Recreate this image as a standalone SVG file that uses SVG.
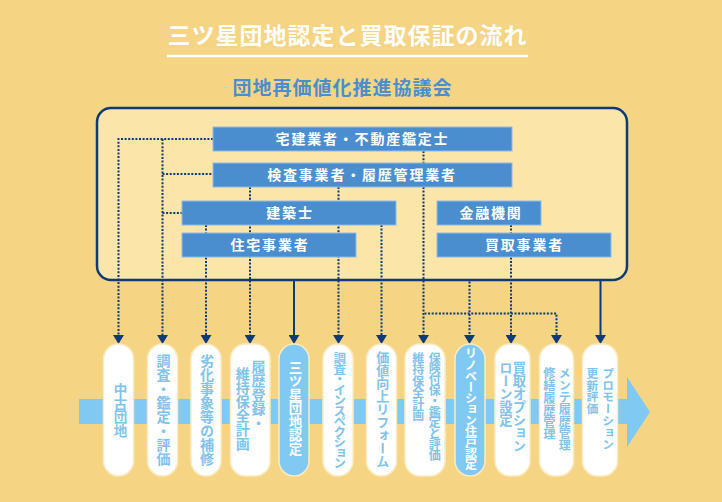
<svg xmlns="http://www.w3.org/2000/svg" width="722" height="502" viewBox="0 0 722 502">
<defs>
<style>
.jp{font-family:"Liberation Sans","Noto Sans CJK JP",sans-serif}
.title{font-size:23px;font-weight:700;fill:#ffffff;letter-spacing:1px}
.sub{font-size:19px;font-weight:700;fill:#4A8ECF;letter-spacing:1px}
.box{fill:#4A8ECF;stroke:#8DBBE6;stroke-width:1}
.bt{font-size:14px;font-weight:700;fill:#ffffff;letter-spacing:1.8px;text-anchor:middle}
.dot{fill:none;stroke:#0E3A7A;stroke-width:2;stroke-dasharray:2 1.6}
.sol{fill:none;stroke:#0E3A7A;stroke-width:2}
.pw{fill:#ffffff;stroke:#FCEBC0;stroke-width:1.5}
.pb{fill:#80C9F2;stroke:#FCEBC0;stroke-width:1.5}
.pt{writing-mode:vertical-rl;font-weight:700;fill:#80C3EC}
.ptw{writing-mode:vertical-rl;font-weight:700;fill:#ffffff}
.m{text-anchor:middle}
</style>
<marker id="ah" markerUnits="userSpaceOnUse" markerWidth="9" markerHeight="11" viewBox="0 0 9 11" refX="0" refY="5.5" orient="auto">
<path d="M0,0 L9,5.5 L0,11 z" fill="#0E3A7A"/>
</marker>
</defs>
<rect x="0" y="0" width="722" height="502" fill="#F5D584"/>
<g id="title">
<text class="jp title" x="347.5" y="44" text-anchor="middle">三ツ星団地認定と買取保証の流れ</text>
<line x1="167" y1="56" x2="528" y2="56" stroke="#ffffff" stroke-width="2.5"/>
</g>
<g id="council">
<text class="jp sub" x="342.5" y="95" text-anchor="middle">団地再価値化推進協議会</text>
<rect x="97" y="108" width="530" height="172" rx="14" fill="#FBE5A8" stroke="#0E3A7A" stroke-width="2.5"/>
</g>
<g id="connectors">
<path class="dot" d="M213,139 H118.5 V335" marker-end="url(#ah)"/>
<path class="dot" d="M162.5,139 V335" marker-end="url(#ah)"/>
<path class="dot" d="M162.5,174 H213"/>
<path class="dot" d="M162.5,213 H182"/>
<path class="dot" d="M206,225 V335" marker-end="url(#ah)"/>
<path class="dot" d="M250,187 V335" marker-end="url(#ah)"/>
<path class="sol" d="M294,281 V335" marker-end="url(#ah)"/>
<path class="dot" d="M338.5,187 V335" marker-end="url(#ah)"/>
<path class="dot" d="M381.5,225 V335" marker-end="url(#ah)"/>
<path class="dot" d="M423.5,151 V335" marker-end="url(#ah)"/>
<path class="dot" d="M469.5,281.5 V335" marker-end="url(#ah)"/>
<path class="dot" d="M424.5,313.5 H556.5 V335" marker-end="url(#ah)"/>
<path class="dot" d="M511,225 V335" marker-end="url(#ah)"/>
<path class="sol" d="M600.5,281 V335" marker-end="url(#ah)"/>
</g>
<g id="n-takken"><rect class="box" x="213" y="127" width="299" height="24"/><text class="jp bt" x="362.5" y="144">宅建業者・不動産鑑定士</text></g>
<g id="n-kensa"><rect class="box" x="213" y="163" width="299" height="24"/><text class="jp bt" x="362" y="180">検査事業者・履歴管理業者</text></g>
<g id="n-kenchikushi"><rect class="box" x="182" y="201" width="214" height="24"/><text class="jp bt" x="290" y="218">建築士</text></g>
<g id="n-jutaku"><rect class="box" x="182" y="233" width="174" height="24"/><text class="jp bt" x="270" y="250">住宅事業者</text></g>
<g id="n-kinyu"><rect class="box" x="437" y="201" width="104" height="24"/><text class="jp bt" x="491" y="218">金融機関</text></g>
<g id="n-kaitori"><rect class="box" x="437" y="233" width="174" height="24"/><text class="jp bt" x="524.5" y="250">買取事業者</text></g>
<g id="band">
<path d="M79,399 H627 V377 L650,412 L627,447 V424 H79 Z" fill="#80C9F2"/>
</g>
<g id="s1"><rect class="pw" x="103.5" y="344" width="30" height="132" rx="15"/><text class="jp pt m" x="119" y="410.5" font-size="13.5">中古団地</text></g>
<g id="s2"><rect class="pw" x="147.5" y="344" width="30" height="132" rx="15"/><text class="jp pt m" x="162.5" y="410" font-size="14">調査・鑑定・評価</text></g>
<g id="s3"><rect class="pw" x="191" y="344" width="30" height="132" rx="15"/><text class="jp pt m" x="206" y="410" font-size="14">劣化事象等の補修</text></g>
<g id="s4"><rect class="pw" x="230.5" y="344" width="39.5" height="132" rx="15"/><text class="jp pt" x="257.5" y="359.5" font-size="14">履歴登録・</text><text class="jp pt" x="241.7" y="367" font-size="14">維持保全計画</text></g>
<g id="s5"><rect class="pb" x="279" y="344" width="30" height="132" rx="15"/><text class="jp ptw m" x="294" y="408" font-size="13.5">三ツ星団地認定</text></g>
<g id="s6"><rect class="pw" x="323" y="344" width="30" height="132" rx="15"/><text class="jp pt m" x="338.3" y="410" font-size="12.5" letter-spacing="-2">調査・インスペクション</text></g>
<g id="s7"><rect class="pw" x="366.5" y="344" width="30" height="132" rx="15"/><text class="jp pt m" x="381.7" y="409.5" font-size="13">価値向上リフォーム</text></g>
<g id="s8"><rect class="pw" x="405" y="344" width="40" height="132" rx="15"/><text class="jp pt" x="433.3" y="352" font-size="12" letter-spacing="-1.2">保険付保・鑑定と評価</text><text class="jp pt" x="416.7" y="352" font-size="12" letter-spacing="-0.5">維持保全計画</text></g>
<g id="s9"><rect class="pb" x="455" y="344" width="30" height="132" rx="15"/><text class="jp ptw m" x="469.5" y="409" font-size="12" letter-spacing="-0.9">リノベーション住戸認定</text></g>
<g id="s10"><rect class="pw" x="495" y="344" width="35" height="132" rx="15"/><text class="jp pt" x="518.3" y="361" font-size="13.3" letter-spacing="-0.2">買取オプション</text><text class="jp pt" x="505" y="361" font-size="13.3" letter-spacing="-0.2">ローン設定</text></g>
<g id="s11"><rect class="pw" x="539.5" y="344" width="34" height="132" rx="15"/><text class="jp pt" x="563.3" y="367.5" font-size="12">メンテ履歴管理</text><text class="jp pt" x="548.3" y="367.5" font-size="12.2">修繕履歴管理</text></g>
<g id="s12"><rect class="pw" x="582.5" y="344" width="35" height="132" rx="15"/><text class="jp pt" x="606.7" y="367.5" font-size="11.8">プロモーション</text><text class="jp pt" x="591" y="367.5" font-size="11.8">更新評価</text></g>
</svg>
